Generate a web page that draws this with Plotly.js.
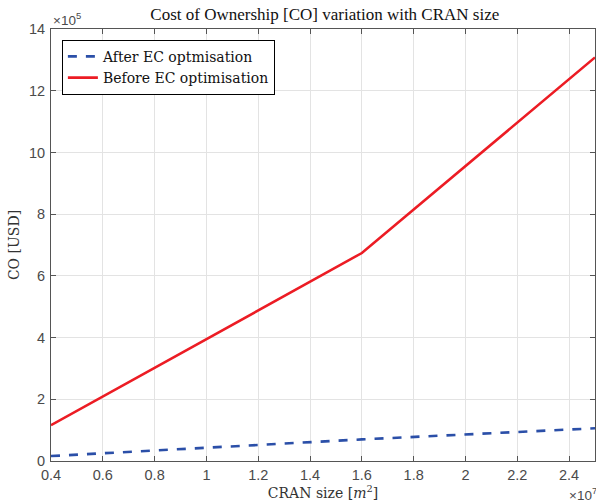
<!DOCTYPE html>
<html><head><meta charset="utf-8">
<script src="https://cdn.plot.ly/plotly-3.0.1.min.js"></script>
<style>body{margin:0;padding:0;background:#fff}#chart{width:596px;height:504px}</style>
</head><body><div id="chart"></div>
<script>
// x in units of 1e7 m^2, y in units of 1e5 USD
const cranSize = [0.4, 1.6, 2.5];
const coAfter = [0.16, 0.70, 1.06];
const coBefore = [1.16, 6.74, 13.08];
const xTickVals = [0.4, 0.6, 0.8, 1.0, 1.2, 1.4, 1.6, 1.8, 2.0, 2.2, 2.4];
const xTickText = ["0.4","0.6","0.8","1","1.2","1.4","1.6","1.8","2","2.2","2.4"];
const yTickVals = [0, 2, 4, 6, 8, 10, 12, 14];

const serif = "Liberation Serif, Times New Roman, serif";
const serifWide = "DejaVu Serif, Liberation Serif, serif";
const sans = "Liberation Sans, Arial, sans-serif";

const traces = [
  {x: cranSize, y: coAfter, mode: 'lines', name: 'After EC optmisation',
   line: {color: '#2b4fa8', width: 2.6, dash: 'dash'}},
  {x: cranSize, y: coBefore, mode: 'lines', name: 'Before EC optimisation',
   line: {color: '#ec1c24', width: 2.6}}
];

const axCommon = {
  showgrid: true, gridcolor: '#e3e3e3', gridwidth: 1,
  zeroline: false, showline: true, linecolor: '#555', linewidth: 1,
  mirror: 'ticks', ticks: 'inside', ticklen: 5, tickcolor: '#555',
  tickfont: {family: sans, size: 14.5, color: '#4a4a4a'}
};

const layout = {
  width: 596, height: 504,
  margin: {l: 51, r: 1, t: 29, b: 43},
  paper_bgcolor: '#fff', plot_bgcolor: '#fff',
  showlegend: true,
  title: {text: 'Cost of Ownership [CO] variation with CRAN size',
          font: {family: serif, size: 17, color: '#111'},
          x: 0.545, xanchor: 'center', y: 0.972, yanchor: 'middle'},
  xaxis: Object.assign({}, axCommon, {
    range: [0.4, 2.5], tickmode: 'array', tickvals: xTickVals, ticktext: xTickText,
    ticklabelstandoff: 1,
    title: {text: 'CRAN size [<i>m</i><sup>2</sup>]', font: {family: serifWide, size: 14, color: '#333'}, standoff: 2}
  }),
  yaxis: Object.assign({}, axCommon, {
    range: [0, 14], tickmode: 'array', tickvals: yTickVals,
    ticklabelstandoff: 2,
    title: {text: 'CO [USD]', font: {family: serifWide, size: 14, color: '#333'}, standoff: 6}
  }),
  legend: {
    x: 0.02, y: 0.975, xanchor: 'left', yanchor: 'top',
    bgcolor: '#fff', bordercolor: '#000', borderwidth: 1,
    font: {family: serifWide, size: 14, color: '#111'},
    tracegroupgap: 0
  },
  annotations: [
    {xref: 'paper', yref: 'paper', x: 0, y: 1, xanchor: 'left', yanchor: 'bottom', yshift: -1,
     text: '×10<sup>5</sup>', showarrow: false, font: {family: sans, size: 13.5, color: '#4a4a4a'}},
    {xref: 'paper', yref: 'paper', x: 1, y: 0, xanchor: 'right', yanchor: 'top', yshift: -22, xshift: 4,
     text: '×10<sup>7</sup>', showarrow: false, font: {family: sans, size: 13.5, color: '#4a4a4a'}}
  ]
};

Plotly.newPlot('chart', traces, layout, {displayModeBar: false, staticPlot: true});
</script></body></html>
